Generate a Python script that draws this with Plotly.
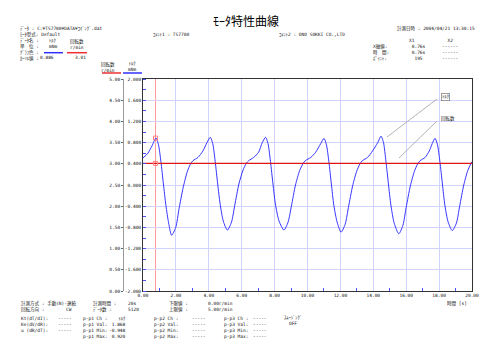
import plotly.graph_objects as go

# ---------------- data ----------------
time_s = [0.00, 0.30, 0.55, 0.79, 0.94, 1.09, 1.24, 1.39, 1.56, 1.74, 1.99, 2.19, 2.44, 2.69, 2.89,
          3.04, 3.34, 3.64, 3.89, 4.09, 4.24, 4.39, 4.54, 4.69, 4.88, 5.13, 5.38, 5.58, 5.83, 6.08,
          6.28, 6.43, 6.73, 7.03, 7.25, 7.45, 7.60, 7.75, 7.90, 8.05, 8.27, 8.57, 8.82, 9.02, 9.27,
          9.52, 9.72, 9.87, 10.20, 10.50, 10.80, 11.00, 11.15, 11.30, 11.45, 11.60, 11.80, 12.04,
          12.29, 12.49, 12.74, 12.99, 13.19, 13.34, 13.65, 13.95, 14.27, 14.47, 14.62, 14.77, 14.92,
          15.07, 15.27, 15.55, 15.80, 16.00, 16.25, 16.50, 16.70, 16.85, 17.15, 17.40, 17.58, 17.75,
          17.90, 18.05, 18.20, 18.35, 18.55, 18.80, 19.05, 19.25, 19.50, 19.75, 20.00]
torque_mNm = [0.51, 0.60, 0.74, 0.886, 0.76, 0.44, 0.02, -0.38, -0.72, -0.948, -0.80, -0.45, -0.05, 0.25, 0.40,
              0.46, 0.52, 0.64, 0.80, 0.90, 0.78, 0.44, 0.02, -0.36, -0.68, -0.85, -0.70, -0.38, 0.02, 0.28,
              0.41, 0.46, 0.52, 0.62, 0.80, 0.90, 0.78, 0.44, 0.02, -0.36, -0.68, -0.85, -0.70, -0.40, 0.00,
              0.27, 0.40, 0.46, 0.52, 0.62, 0.78, 0.88, 0.76, 0.44, 0.02, -0.38, -0.70, -0.89,
              -0.74, -0.42, -0.02, 0.26, 0.40, 0.46, 0.52, 0.64, 0.80, 0.92, 0.80, 0.44, 0.02,
              -0.38, -0.72, -0.92, -0.76, -0.42, -0.02, 0.26, 0.40, 0.46, 0.52, 0.64, 0.78, 0.88,
              0.76, 0.44, 0.02, -0.38, -0.70, -0.86, -0.72, -0.40, 0.00, 0.28, 0.44]
rpm_time_s = [0, 2, 4, 6, 8, 10, 12, 14, 16, 18, 20]
rpm_r_min = [3.01, 3.01, 3.01, 3.01, 3.01, 3.01, 3.01, 3.01, 3.01, 3.01, 3.01]

cursor_t = 0.76
cursor_point = 195
cursor_torque = 0.886
cursor_rpm = 3.01
pp1_val, pp1_min, pp1_max = 1.868, -0.948, 0.920

x_ticks = [0, 2, 4, 6, 8, 10, 12, 14, 16, 18, 20]
x_ticktext = ["0.00", "2.00", "4.00", "6.00", "8.00", "10.00", "12.00", "14.00", "16.00", "18.00", "20.00"]
x_minor = [1, 3, 5, 7, 9, 11, 13, 15, 17, 19]
trq_ticks = [-2.0, -1.6, -1.2, -0.8, -0.4, 0.0, 0.4, 0.8, 1.2, 1.6, 2.0]
trq_ticktext = ["-2.000", "-1.600", "-1.200", "-0.800", "-0.400", "0.000", "0.400", "0.800", "1.200", "1.600", "2.000"]
rpm_ticks = [0, 0.5, 1, 1.5, 2, 2.5, 3, 3.5, 4, 4.5, 5]
rpm_ticktext = ["0.00", "0.50", "1.00", "1.50", "2.00", "2.50", "3.00", "3.50", "4.00", "4.50", "5.00"]

# ---------------- layout helpers ----------------
W, H = 500, 354
L, R, T, B = 122, 28, 79, 63
FONT = "DejaVu Sans Mono, Noto Sans CJK JP"
TXT = "#111111"
S = 4.5
NB = "&nbsp;"


def px(x):
    return (x - L) / (W - L - R)


def py(y):
    return 1 - (y - T) / (H - T - B)


annotations = []
shapes = []


def block(x, y_first, lines, anchor="left", size=S, color=TXT, family=FONT):
    n = len(lines)
    yc = y_first + (n - 1) * 1.3 * size / 2
    annotations.append(dict(x=px(x), y=py(yc), xref="paper", yref="paper", text="<br>".join(lines),
                            showarrow=False, xanchor=anchor, yanchor="middle", align=anchor, borderpad=0,
                            font=dict(family=family, size=size, color=color)))


def hline(x0, x1, y, color, width=1.5):
    shapes.append(dict(type="line", xref="paper", yref="paper", x0=px(x0), x1=px(x1), y0=py(y), y1=py(y),
                       line=dict(color=color, width=width)))


def seg(x0, y0, x1, y1, color="#a0a0a0"):
    shapes.append(dict(type="line", xref="paper", yref="paper", x0=px(x0), x1=px(x1), y0=py(y0), y1=py(y1),
                       line=dict(color=color, width=0.8)))


# ---------------- figure ----------------
fig = go.Figure()
fig.add_trace(go.Scatter(x=time_s, y=torque_mNm, mode="lines", yaxis="y",
                         line=dict(color="#3535ff", width=1, shape="spline", smoothing=0.7),
                         showlegend=False, hoverinfo="skip"))
fig.add_trace(go.Scatter(x=rpm_time_s, y=rpm_r_min, mode="lines", yaxis="y2",
                         line=dict(color="#dd1515", width=1.2), showlegend=False, hoverinfo="skip"))
fig.add_trace(go.Scatter(x=[cursor_t], y=[cursor_torque], mode="markers", yaxis="y",
                         marker=dict(symbol="square-open", size=4, color="#ff8080", line=dict(width=1)),
                         showlegend=False, hoverinfo="skip"))
fig.add_trace(go.Scatter(x=[cursor_t], y=[cursor_rpm], mode="markers", yaxis="y2",
                         marker=dict(symbol="square-open", size=4, color="#ff8080", line=dict(width=1)),
                         showlegend=False, hoverinfo="skip"))

# cursor line
shapes.append(dict(type="line", xref="x", yref="paper", x0=cursor_t, x1=cursor_t, y0=0, y1=1,
                   line=dict(color="#ff9a9a", width=1), layer="below"))

# ---------------- header ----------------
block(246, 21, ["ﾓｰﾀ特性曲線"], anchor="center", size=12, color="#000000", family="Noto Sans CJK JP")
block(19, 28.5, ["ﾃﾞｰﾀ : C:¥TS7700¥DATA¥ｺｷﾞﾝｸﾞ.dat", "ﾓｰﾀ型式: Default"])
block(19, 41, ["ﾃﾞｰﾀ名 :", "単　位 :", "ｸﾞﾗﾌ色 :", "ｶｰｿﾙ値 :"])
block(48, 41, ["ﾄﾙｸ", "mNm"])
block(69, 41, ["回転数", "r/min"])
hline(44, 63, 52.7, "#3030ff")
hline(67, 87, 52.7, "#ee3030")
block(55, 58, [f"{cursor_torque:.3f}"], anchor="right")
block(87, 58, [f"{cursor_rpm:.2f}"], anchor="right")
block(152, 34.4, ["ｺﾒﾝﾄ1 : TS7700"])
block(278, 34.4, ["ｺﾒﾝﾄ2 : ONO SOKKI CO.,LTD"])
block(396, 28.5, ["計測日時 : 2004/04/21 13:30:15"])
block(372, 46.3, ["X軸値:", "時　間:", "ﾎﾟｲﾝﾄ:"])
block(427, 40.5, ["X1" + NB * 4, f"{cursor_t:.2f}s", f"{cursor_t:.2f}s", f"{cursor_point}" + NB], anchor="right")
block(449.5, 40.5, ["X2", "------", "------", "------"], anchor="center")

# axis headers
block(108, 64, ["回転数", "r/min"], anchor="center")
hline(102, 121, 73, "#ee3030")
block(132, 64, ["ﾄﾙｸ", "mNm"], anchor="center")
hline(123, 142, 73, "#3030ff")

# in-plot labels with leader lines
annotations.append(dict(x=px(445), y=py(97), xref="paper", yref="paper", text="ﾄﾙｸ", showarrow=False,
                        xanchor="center", yanchor="middle", bordercolor="#888888", borderwidth=0.8,
                        borderpad=0.5, bgcolor="white", font=dict(family=FONT, size=S, color=TXT)))
seg(437, 99, 387, 137)
block(448, 118, ["回転数"], anchor="center")
seg(437, 121, 399, 158)

# ---------------- footer ----------------
block(20, 304, ["計測方式 : 手動(N)-連続", "回転方向 :" + NB * 8 + "CW"])
block(92, 304, ["計測時間 :", "ﾃﾞｰﾀ数 :"])
block(127, 304, ["20s", "5120"])
block(168, 304, ["下限値 :", "上限値 :"])
block(207, 304, ["0.00r/min", "5.00r/min"])
block(446, 304, ["時間 [s]"])

y3 = 318.5
block(20, y3, ["Kt(dT/dI):", "Ke(dV/dR):", "u (dR/dT):"])
block(57, y3, ["-----", "-----", "-----"])
block(82, y3, ["p-p1 Ch :", "p-p1 Val:", "p-p1 Min:", "p-p1 Max:"])
block(127, y3, ["ﾄﾙｸ", f"{pp1_val:.3f}", f"{pp1_min:.3f}", f"{pp1_max:.3f}"], anchor="right")
block(153, y3, ["p-p2 Ch :", "p-p2 Val:", "p-p2 Min:", "p-p2 Max:"])
block(191, y3, ["-----", "-----", "-----", "-----"])
block(223, y3, ["p-p3 Ch :", "p-p3 Val:", "p-p3 Min:", "p-p3 Max:"])
block(252, y3, ["-----", "-----", "-----", "-----"])
block(293, y3 - 1, ["ｽﾑｰｼﾞﾝｸﾞ", "OFF"], anchor="center")

GRID = "#d2d2ff"
TICKFONT = dict(size=S, family=FONT, color=TXT)
fig.update_layout(
    width=W, height=H, margin=dict(l=L, r=R, t=T, b=B, pad=0),
    paper_bgcolor="white", plot_bgcolor="white", template="none", showlegend=False,
    font=dict(family=FONT, size=S, color=TXT),
    xaxis=dict(domain=[px(143), 1], range=[0, 20], tickvals=x_ticks, ticktext=x_ticktext,
               showgrid=True, gridcolor=GRID, gridwidth=1, zeroline=False,
               showline=True, linecolor="#333333", linewidth=1, mirror=True,
               ticks="", tickfont=TICKFONT, automargin=False,
               minor=dict(tickvals=x_minor, ticks="inside", ticklen=3, tickcolor="#5050ff", showgrid=False)),
    yaxis=dict(range=[-2, 2], tickvals=trq_ticks, ticktext=trq_ticktext, anchor="x", side="left",
               showgrid=True, gridcolor=GRID, gridwidth=1, zeroline=False,
               showline=True, linecolor="#333333", linewidth=1, mirror=True,
               ticks="", tickfont=TICKFONT, automargin=False,
               minor=dict(dtick=0.2, ticks="inside", ticklen=3, tickcolor="#5050ff", showgrid=False)),
    yaxis2=dict(range=[0, 5], tickvals=rpm_ticks, ticktext=rpm_ticktext, overlaying="y",
                anchor="free", position=px(123), side="left", showgrid=False, zeroline=False,
                showline=True, linecolor="#999999", linewidth=1, ticks="outside", ticklen=2,
                tickcolor="#666666", tickfont=TICKFONT, automargin=False),
    annotations=annotations, shapes=shapes,
)

fig.write_html("out.html")
